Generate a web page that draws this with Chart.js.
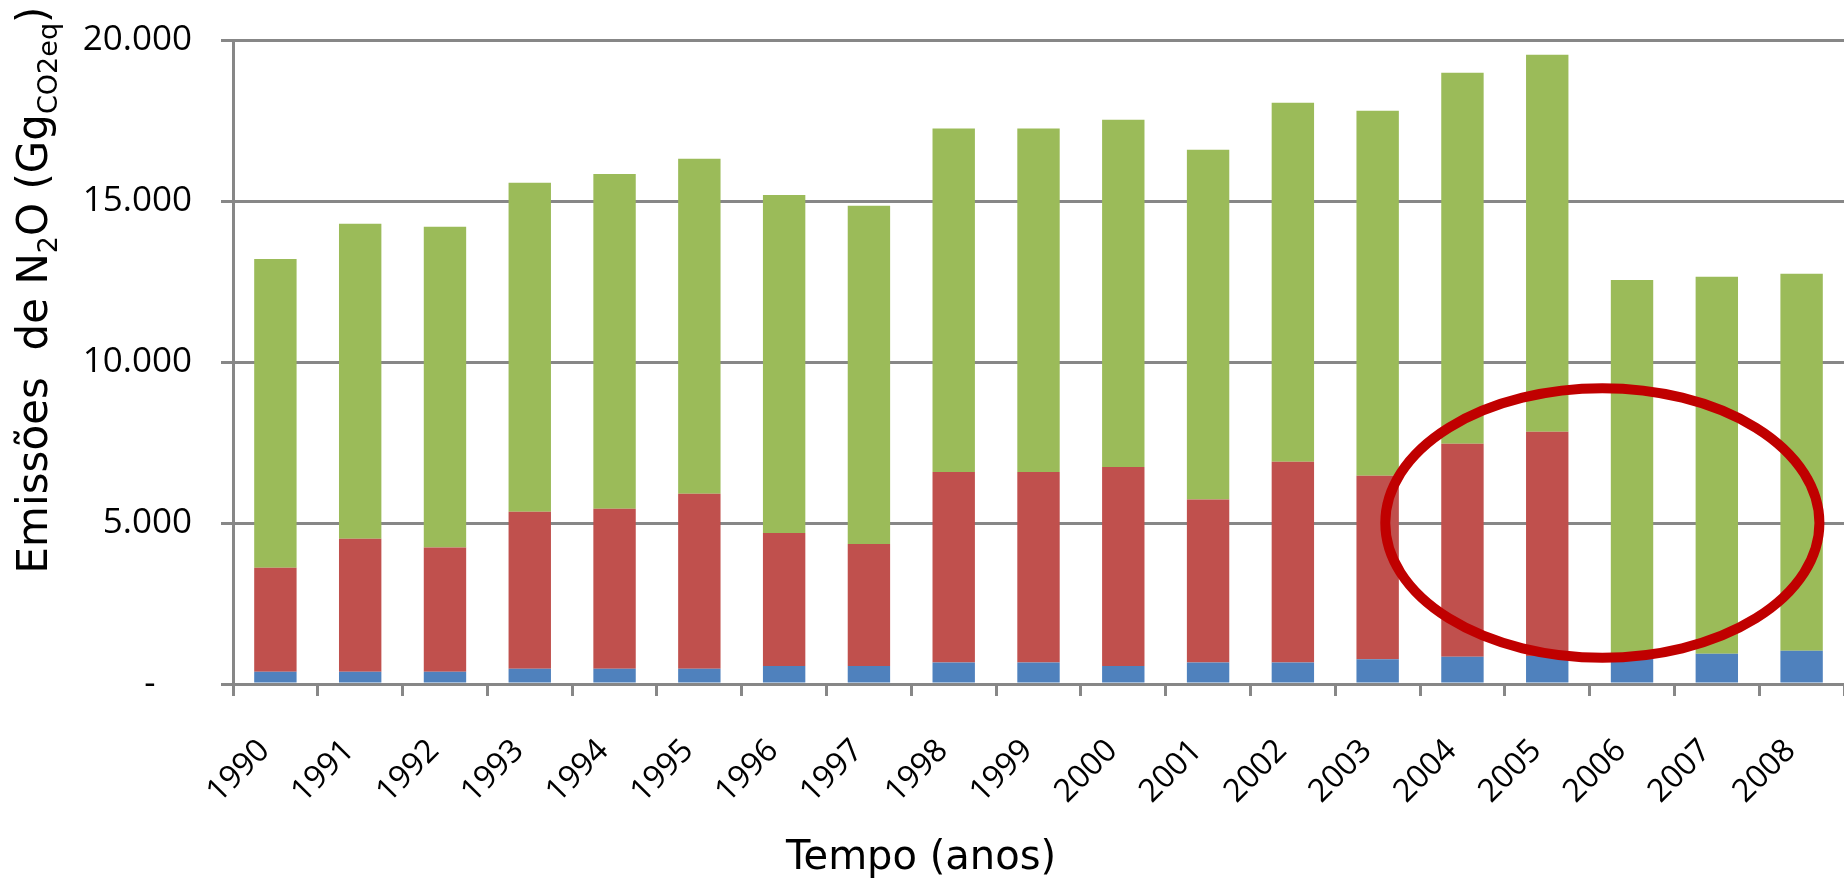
<!DOCTYPE html>
<html>
<head>
<meta charset="utf-8">
<title>Emissões de N2O</title>
<script src="https://cdn.jsdelivr.net/npm/chart.js@4.4.0/dist/chart.umd.min.js"></script>
<style>
  html, body { margin: 0; padding: 0; background: #fff; overflow: hidden; }
</style>
</head>
<body>
<canvas id="chart" width="1844" height="879"></canvas>
<script>
const years = ['1990', '1991', '1992', '1993', '1994', '1995', '1996', '1997', '1998', '1999',
  '2000', '2001', '2002', '2003', '2004', '2005', '2006', '2007', '2008'];

// stacked segments, bottom to top
const blueValues = [380, 380, 380, 470, 470, 470, 560, 560, 670, 670, 560, 670, 670, 770, 850, 870, 880, 940, 1030];
const redValues = [3230, 4130, 3860, 4880, 4970, 5440, 4130, 3790, 5910, 5910, 6180, 5060, 6230, 5700, 6610, 6960, 0, 0, 0];
const greenValues = [9590, 9780, 9960, 10220, 10400, 10400, 10500, 10500, 10670, 10670, 10780, 10860, 11150, 11330, 11520, 11710, 11670, 11710, 11710];

const yMax = 20000;
const yStep = 5000;

// red ellipse, in data units (category index, value)
const ellipseCenter = [15.65, 5000];
const ellipseRadius = [2.56, 4185];

const gridGray = '#878787';

function formatPt(v) {
  if (v === 0) return '-    ';
  return String(v).replace(/\B(?=(\d{3})+(?!\d))/g, '.');
}

const yTitleParts = [
  { text: 'Emissões  de N', sub: false },
  { text: '2', sub: true },
  { text: 'O (Gg', sub: false },
  { text: 'CO2eq', sub: true },
  { text: ')', sub: false }
];

const extras = {
  id: 'extras',
  afterDatasetsDraw(chart) {
    const { ctx, scales: { x, y } } = chart;
    const cx = x.getPixelForValue(ellipseCenter[0]);
    const cy = y.getPixelForValue(ellipseCenter[1]);
    const rx = x.getPixelForValue(ellipseCenter[0] + ellipseRadius[0]) - cx;
    const ry = cy - y.getPixelForValue(ellipseCenter[1] + ellipseRadius[1]);
    ctx.save();
    ctx.beginPath();
    ctx.ellipse(cx, cy, rx, ry, 0, 0, Math.PI * 2);
    ctx.strokeStyle = '#C00000';
    ctx.lineWidth = 10;
    ctx.stroke();
    ctx.restore();
  },
  afterDraw(chart) {
    const ctx = chart.ctx;
    const big = '42px "DejaVu Sans"';
    const small = '27px "DejaVu Sans"';
    ctx.save();
    ctx.fillStyle = '#000';
    ctx.textBaseline = 'alphabetic';

    // y title, rotated, with subscripts
    let total = 0;
    yTitleParts.forEach(p => {
      ctx.font = p.sub ? small : big;
      p.w = ctx.measureText(p.text).width;
      total += p.w;
    });
    ctx.save();
    ctx.translate(47, 290 + total / 2);
    ctx.rotate(-Math.PI / 2);
    ctx.textAlign = 'left';
    let pos = 0;
    yTitleParts.forEach(p => {
      ctx.font = p.sub ? small : big;
      ctx.fillText(p.text, pos, p.sub ? 10 : 0);
      pos += p.w;
    });
    ctx.restore();

    // x title
    ctx.font = '40px "DejaVu Sans"';
    ctx.textAlign = 'center';
    ctx.fillText('Tempo (anos)', 921, 869);
    ctx.restore();
  }
};

new Chart(document.getElementById('chart'), {
  type: 'bar',
  data: {
    labels: years,
    datasets: [
      { label: 'Série 1', data: blueValues, backgroundColor: '#4F81BD' },
      { label: 'Série 2', data: redValues, backgroundColor: '#C0504D' },
      { label: 'Série 3', data: greenValues, backgroundColor: '#9BBB59' }
    ]
  },
  options: {
    responsive: false,
    animation: false,
    layout: { padding: { top: 40, right: 0, left: 0, bottom: 0 } },
    datasets: { bar: { barPercentage: 0.5, categoryPercentage: 1 } },
    plugins: { legend: { display: false }, tooltip: { enabled: false } },
    scales: {
      x: {
        stacked: true,
        afterFit: s => {
          s.height = 195;
          s.paddingLeft = 0;
          s.paddingRight = 0;
        },
        grid: { display: true, drawOnChartArea: false, drawTicks: true, tickLength: 12, offset: true, color: gridGray, lineWidth: 3 },
        border: { display: true, color: gridGray, width: 3 },
        ticks: {
          color: '#000',
          font: { family: 'Open Sans', size: 32 },
          maxRotation: 45,
          minRotation: 45,
          autoSkip: false,
          padding: 36,
          labelOffset: -11
        }
      },
      y: {
        stacked: true,
        min: 0,
        max: yMax,
        afterFit: s => {
          s.width = 233;
          s.paddingTop = 0;
          s.paddingBottom = 0;
        },
        grid: { color: gridGray, lineWidth: 3, tickLength: 12, drawTicks: true },
        border: { display: true, color: gridGray, width: 3 },
        ticks: {
          stepSize: yStep,
          color: '#000',
          font: { family: 'Open Sans', size: 35 },
          padding: 29,
          callback: v => formatPt(v)
        }
      }
    }
  },
  plugins: [extras]
});
</script>
</body>
</html>
